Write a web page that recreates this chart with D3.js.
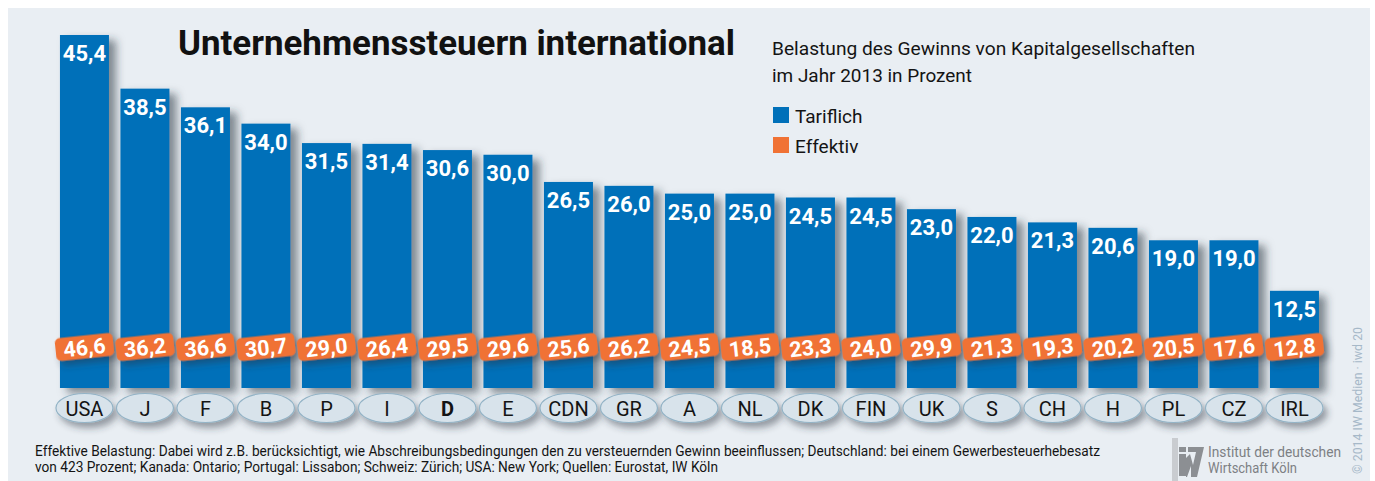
<!DOCTYPE html>
<html>
<head>
<meta charset="utf-8">
<script src="https://cdn.jsdelivr.net/npm/d3@7"></script>
<style>
  html, body { margin: 0; padding: 0; background: #ffffff; }
  svg { display: block; }
  text { font-family: Roboto, "Noto Sans", sans-serif; }
</style>
</head>
<body>
<svg id="chart" width="1375" height="481"></svg>
<script>
//////////////////// DATA ////////////////////
const countries = ["USA", "J", "F", "B", "P", "I", "D", "E", "CDN", "GR", "A",
                   "NL", "DK", "FIN", "UK", "S", "CH", "H", "PL", "CZ", "IRL"];
const tariflich = [45.4, 38.5, 36.1, 34.0, 31.5, 31.4, 30.6, 30.0, 26.5, 26.0, 25.0,
                   25.0, 24.5, 24.5, 23.0, 22.0, 21.3, 20.6, 19.0, 19.0, 12.5];
const effektiv = [46.6, 36.2, 36.6, 30.7, 29.0, 26.4, 29.5, 29.6, 25.6, 26.2, 24.5,
                  18.5, 23.3, 24.0, 29.9, 21.3, 19.3, 20.2, 20.5, 17.6, 12.8];
const highlighted = "D";
const legendItems = ["Tariflich", "Effektiv"];
const titleText = "Unternehmenssteuern international";
const subtitleLines = ["Belastung des Gewinns von Kapitalgesellschaften", "im Jahr 2013 in Prozent"];
const footnoteLines = [
    "Effektive Belastung: Dabei wird z.B. berücksichtigt, wie Abschreibungsbedingungen den zu versteuernden Gewinn beeinflussen; Deutschland: bei einem Gewerbesteuerhebesatz",
    "von 423 Prozent; Kanada: Ontario; Portugal: Lissabon; Schweiz: Zürich; USA: New York; Quellen: Eurostat, IW Köln"
];
const logoLines = ["Institut der deutschen", "Wirtschaft Köln"];
const creditText = "© 2014 IW Medien · iwd 20";

//////////////////// COLOURS ////////////////////
const colors = {
    panel: "#e9eef3",
    blue: "#0070b9",
    orange: "#f07234",
    pill: "#d8e3eb",
    pillStroke: "#93b3c6",
    text: "#141414"
};

const rows = countries.map((c, i) => ({ country: c, tarif: tariflich[i], eff: effektiv[i] }));
const fmt = d3.formatLocale({ decimal: ",", thousands: ".", grouping: [3], currency: ["", "€"] }).format(".1f");

const svg = d3.select("#chart");

//////////////////// FILTERS ////////////////////
const defs = svg.append("defs");
const shadow = defs.append("filter").attr("id", "shadow")
    .attr("x", "-30%").attr("y", "-10%").attr("width", "180%").attr("height", "130%");
shadow.append("feDropShadow")
    .attr("dx", 7).attr("dy", 5).attr("stdDeviation", 4.5)
    .attr("flood-color", "#2b3440").attr("flood-opacity", 0.55);

const smallShadow = defs.append("filter").attr("id", "smallShadow")
    .attr("x", "-30%").attr("y", "-30%").attr("width", "170%").attr("height", "190%");
smallShadow.append("feDropShadow")
    .attr("dx", 4).attr("dy", 5).attr("stdDeviation", 3.5)
    .attr("flood-color", "#2b3440").attr("flood-opacity", 0.45);

//////////////////// PANEL ////////////////////
svg.append("rect")
    .attr("x", 8).attr("y", 8)
    .attr("width", 1362).attr("height", 481)
    .attr("fill", colors.panel);

//////////////////// SCALES ////////////////////
const scaleX = d3.scaleBand()
    .domain(countries)
    .range([54.2, 1324.7])
    .paddingInner(0.19)
    .paddingOuter(0.095);

const baseY = 388;
const scaleY = d3.scaleLinear()
    .domain([0, d3.max(tariflich)])
    .range([baseY, 35]);

//////////////////// BARS ////////////////////
svg.append("g")
    .selectAll("rect")
    .data(rows)
    .join("rect")
    .attr("x", d => scaleX(d.country))
    .attr("y", d => scaleY(d.tarif))
    .attr("width", scaleX.bandwidth())
    .attr("height", d => baseY - scaleY(d.tarif))
    .attr("fill", colors.blue)
    .attr("filter", "url(#shadow)");

// tariff values in bars
svg.append("g")
    .selectAll("text")
    .data(rows)
    .join("text")
    .attr("x", d => scaleX(d.country) + scaleX.bandwidth() / 2)
    .attr("y", d => scaleY(d.tarif) + 26)
    .attr("text-anchor", "middle")
    .attr("font-size", 22)
    .attr("font-weight", 700)
    .attr("fill", "#ffffff")
    .text(d => fmt(d.tarif));

//////////////////// EFFECTIVE LABELS ////////////////////
const effY = 347;
const effGroups = svg.append("g")
    .selectAll("g")
    .data(rows)
    .join("g")
    .attr("transform", d => `translate(${scaleX(d.country) + scaleX.bandwidth() / 2}, ${effY}) rotate(-6)`);

effGroups.append("rect")
    .attr("x", -29).attr("y", -11.5)
    .attr("width", 58).attr("height", 23)
    .attr("rx", 5)
    .attr("fill", colors.orange)
    .attr("filter", "url(#smallShadow)");

effGroups.append("text")
    .attr("x", 0).attr("y", 8)
    .attr("text-anchor", "middle")
    .attr("font-size", 21.5)
    .attr("font-weight", 700)
    .attr("fill", "#ffffff")
    .text(d => fmt(d.eff));

//////////////////// CATEGORY PILLS ////////////////////
const pills = svg.append("g")
    .selectAll("g")
    .data(rows)
    .join("g")
    .attr("transform", d => `translate(${scaleX(d.country) + scaleX.bandwidth() / 2}, 408)`);

pills.append("ellipse")
    .attr("rx", 28.5).attr("ry", 14.5)
    .attr("fill", colors.pill)
    .attr("stroke", colors.pillStroke)
    .attr("stroke-width", 1.2)
    .attr("filter", "url(#smallShadow)");

pills.append("text")
    .attr("y", 7.5)
    .attr("text-anchor", "middle")
    .attr("font-size", 20)
    .attr("font-weight", d => d.country === highlighted ? 700 : 400)
    .attr("fill", colors.text)
    .text(d => d.country);

//////////////////// TITLE / SUBTITLE / LEGEND ////////////////////
svg.append("text")
    .attr("x", 178).attr("y", 55)
    .attr("font-size", 35)
    .attr("font-weight", 700)
    .attr("fill", "#111111")
    .attr("textLength", 557)
    .attr("lengthAdjust", "spacingAndGlyphs")
    .text(titleText);

const subWidths = [423, 200];
svg.append("g")
    .selectAll("text")
    .data(subtitleLines)
    .join("text")
    .attr("x", 772)
    .attr("y", (d, i) => 55 + i * 27)
    .attr("font-size", 19)
    .attr("fill", colors.text)
    .attr("textLength", (d, i) => subWidths[i])
    .attr("lengthAdjust", "spacingAndGlyphs")
    .text(d => d);

const legend = svg.append("g")
    .selectAll("g")
    .data(legendItems)
    .join("g")
    .attr("transform", (d, i) => `translate(773, ${107 + i * 30})`);

legend.append("rect")
    .attr("width", 16).attr("height", 16)
    .attr("fill", (d, i) => i === 0 ? colors.blue : colors.orange);

legend.append("text")
    .attr("x", 22).attr("y", 16)
    .attr("font-size", 19)
    .attr("fill", colors.text)
    .text(d => d);

//////////////////// FOOTNOTE ////////////////////
const footWidths = [1065, 683];
svg.append("g")
    .selectAll("text")
    .data(footnoteLines)
    .join("text")
    .attr("x", 35)
    .attr("y", (d, i) => 456 + i * 16)
    .attr("font-size", 14)
    .attr("fill", colors.text)
    .attr("textLength", (d, i) => footWidths[i])
    .attr("lengthAdjust", "spacingAndGlyphs")
    .text(d => d);

//////////////////// LOGO ////////////////////
const logo = svg.append("g");
logo.append("rect")
    .attr("x", 1172).attr("y", 438).attr("width", 6).attr("height", 43)
    .attr("fill", "#c9ccd0");
logo.append("rect")
    .attr("x", 1179).attr("y", 447).attr("width", 7).attr("height", 5)
    .attr("fill", "#8c8f93");
logo.append("path")
    .attr("d", "M1179,454 L1186,454 L1186,476 L1179,476 Z")
    .attr("fill", "#8c8f93");
logo.append("path")
    .attr("d", "M1188,447 L1204,447 L1197,477 L1191,477 L1191,466 L1187,477 L1186,477 L1186,458 L1190,454 L1193,465 L1196,452 L1188,452 Z")
    .attr("fill", "#8c8f93");

const logoWidths = [133, 89];
logo.selectAll("text.logo")
    .data(logoLines)
    .join("text")
    .attr("class", "logo")
    .attr("x", 1208)
    .attr("y", (d, i) => 457 + i * 16)
    .attr("font-family", "'Liberation Sans', Arial, sans-serif")
    .attr("font-size", 15)
    .attr("fill", "#7d8084")
    .attr("textLength", (d, i) => logoWidths[i])
    .attr("lengthAdjust", "spacingAndGlyphs")
    .text(d => d);

//////////////////// CREDIT ////////////////////
svg.append("text")
    .attr("transform", "translate(1362, 474) rotate(-90)")
    .attr("font-size", 13)
    .attr("fill", "#a6b8c8")
    .attr("textLength", 147)
    .attr("lengthAdjust", "spacingAndGlyphs")
    .text(creditText);
</script>
</body>
</html>
